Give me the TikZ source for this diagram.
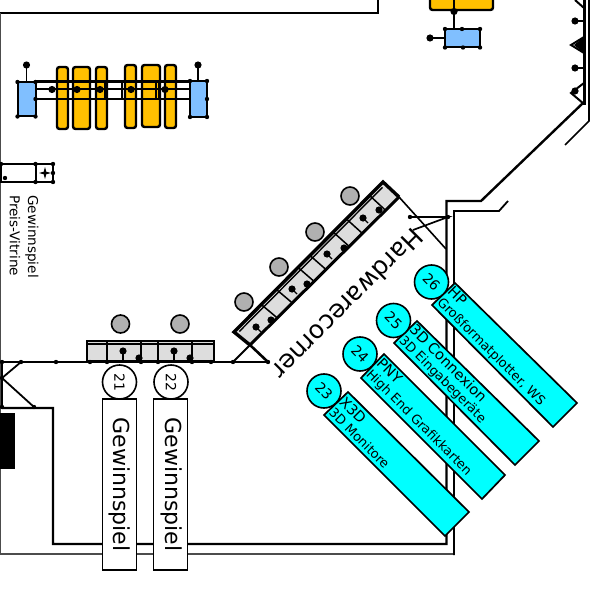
\documentclass[tikz,border=0pt]{standalone}
\usepackage{fontspec}
\setmainfont{DejaVu Sans}
\usetikzlibrary{calc}
\definecolor{boxblue}{HTML}{80BFFF}
\definecolor{boxorange}{HTML}{FFC000}
\definecolor{boxcyan}{HTML}{00FFFF}
\definecolor{counter}{HTML}{DDDDDD}
\definecolor{visitor}{HTML}{B0B0B0}
\tikzset{
  wall/.style={line width=2.4pt,black},
  thinwall/.style={line width=1.8pt,black},
  greywall/.style={line width=1.8pt,black!70},
  orangebox/.style={draw,line width=2.4pt,fill=boxorange,rounded corners=2.5pt},
  bluebox/.style={draw,line width=2pt,fill=boxblue},
  standbox/.style={draw,line width=1.7pt,fill=boxcyan},
  whitebox/.style={draw,line width=1.6pt,fill=white},
  numcirc/.style={draw,circle,line width=1.6pt,minimum size=34pt,inner sep=0pt,font=\fontsize{14}{14}\selectfont},
  visitorc/.style={draw,circle,line width=1.6pt,fill=visitor,minimum size=18pt,inner sep=0pt},
  standtext/.style={rotate=-45,anchor=west,align=left,inner sep=0pt,font=\fontsize{12.9}{14.5}\selectfont},
  bigtext/.style={rotate=-90,inner sep=0pt,font=\fontsize{22}{22}\selectfont},
  smalltext/.style={rotate=-90,anchor=west,inner sep=0pt,font=\fontsize{13.6}{14}\selectfont},
}
\newcommand{\hd}[1]{{\fontsize{14.5}{14.5}\selectfont #1}}
\newcommand{\blob}[1]{\fill #1 circle (3.6);}
\newcommand{\pt}[1]{\fill #1 circle (2.2);}
\begin{document}
\begin{tikzpicture}[x=1pt,y=-1pt]
\useasboundingbox (0,0) rectangle (597,604);
% outer walls
\draw[wall] (0,13) -- (378,13) -- (378,0);
\draw[greywall] (0.5,13) -- (0.5,555);
\draw[wall] (2,408) -- (53,408) -- (53,544) -- (446.5,544) -- (446.5,201) -- (481,201) -- (583,103);
\draw[greywall] (0,554) -- (454,554);
\draw[thinwall] (454,555) -- (454,211) -- (499,211) -- (508,201);
\draw[line width=3pt] (584,0) -- (584,105);
\draw[line width=1.6pt] (589,0) -- (589,121) -- (565,145);
% left entry
\draw[thinwall] (0,362) -- (268,362);
\draw[thinwall] (2,362) -- (2,408);
\draw[thinwall] (21,362) -- (2,378) -- (34,407);
\foreach \p in {(2,362),(21,362),(56,362),(233,362),(2,378),(2,407),(34,407)} {\pt{\p}}
\fill (0,413) rectangle (15,469);
% left stand
\draw[orangebox] (57,67) rectangle (68,129);
\draw[orangebox] (73,67) rectangle (90,129);
\draw[orangebox] (96,67) rectangle (107,129);
\draw[orangebox] (125,65) rectangle (136,128);
\draw[orangebox] (142,65) rectangle (160,127);
\draw[orangebox] (165,65) rectangle (176,128);
\draw[line width=2.2pt] (35,81.5) -- (190,81.5) (35,99) -- (190,99);
\draw[line width=2pt] (35,89.5) -- (190,89.5);
\draw[line width=1.3pt] (105,81) -- (105,99) (122,81) -- (122,99) (156,81) -- (156,99) (159,81) -- (159,99);
\foreach \p in {(52,89.5),(77,89.5),(100,89.5),(131,89.5),(165,89.5)} {\blob{\p}}
\draw[bluebox] (17.5,82) rectangle (35.5,116.5);
\draw[bluebox] (190,81) rectangle (207,117);
\draw[line width=1.6pt] (26.5,65) -- (26.5,82) (198,65) -- (198,81);
\blob{(26.5,65)} \blob{(198,65)}
\foreach \p in {(17.5,82),(35.5,82),(17.5,116.5),(35.5,116.5),(190,81),(207,81),(190,117),(207,117),(207,99),(35.5,99)} {\pt{\p}}
% showcase
\draw[line width=2pt] (1,164) rectangle (53,182) (35.5,164) -- (35.5,182);
\fill (45,167) -- (46.3,171.7) -- (51,173) -- (46.3,174.3) -- (45,179) -- (43.7,174.3) -- (39,173) -- (43.7,171.7) -- cycle;
\foreach \p in {(1,164),(35.5,164),(53,164),(35.5,182),(53,182),(53,173),(5,178)} {\pt{\p}}
\node[smalltext] (t1) at (32,195) {Gewinnspiel};
\node[smalltext] (t2) at (15,195) {Preis-Vitrine};
% top stand
\draw[orangebox] (430,-5) rectangle (493,10);
\draw[line width=2.6pt] (454,0) -- (454,29);
\blob{(454,11.5)}
\draw[bluebox] (445,29) rectangle (480,47.5);
\draw[line width=1.6pt] (430,38) -- (445,38);
\blob{(430,38)}
\foreach \p in {(445,29),(462,29),(480,29),(445,47.5),(463,47.5),(480,47.5)} {\pt{\p}}
% right wall furniture
\draw[line width=2pt] (575,0) -- (584,8) (584,37) -- (571,45) -- (584,53) (584,83) -- (571,93) -- (584,104);
\fill (584,37) -- (574,45) -- (584,53) -- cycle;
\draw[line width=1.4pt] (575,21) -- (584,21) (575,68) -- (584,68);
\blob{(575,21)} \blob{(575,68)} \blob{(575,91)}
% horizontal counter
\draw[line width=1.5pt,fill=counter] (87,341) rectangle (214,362);
\draw[line width=2.6pt] (87,362) -- (87,341) -- (214,341);
\draw[line width=1.4pt] (87,344) -- (214,344);
\foreach \x in {107,141,158,192} {\draw[line width=1.5pt] (\x,341) -- (\x,362);}
\draw[line width=2.6pt] (87,361) -- (214,361);
\draw[line width=1.4pt] (123,351) -- (123,361) (174,351) -- (174,361);
\foreach \p in {(123,351),(174,351),(139,358),(190,358)} {\blob{\p}}
\foreach \x in {90,107,141,158,192,211} {\pt{(\x,362)}}
\node[visitorc] (v1) at (120.5,324) {};
\node[visitorc] (v2) at (180,324) {};
% diagonal counter
\coordinate (T0) at (234,332);
\coordinate (T1) at (383,182);
\coordinate (B0) at (250,345);
\coordinate (B1) at (399,197);
\draw[line width=1.5pt,fill=counter] (T0) -- (T1) -- (B1) -- (B0) -- cycle;
\draw[line width=3.4pt] (B0) -- (T0) -- (T1) -- (B1);
\draw[line width=3pt] (B0) -- (B1);
\draw[line width=1.4pt] ($(T0)!.02!(T1)+(2.4,2.4)$) -- ($(T0)!.98!(T1)+(2.4,2.4)$);
\foreach \f in {.183,.284,.43,.51,.666,.754,.91} {
  \draw[line width=1.5pt] ($(T0)!\f!(T1)$) -- ($(B0)!\f!(B1)$);
}
\foreach \a/\b in {256/327,292/289,327/254,363/218} {
  \draw[line width=1.4pt] (\a,\b) -- (\a+5,\b+5);
  \blob{(\a,\b)}
}
\foreach \p in {(271,320),(307,284),(344,248),(379,210)} {\blob{\p}}
\node[visitorc] (v3) at (244,302) {};
\node[visitorc] (v4) at (279,267) {};
\node[visitorc] (v5) at (315,232) {};
\node[visitorc] (v6) at (350,196) {};
\draw[line width=1.8pt] (B0) -- (233,362);
\draw[line width=2.6pt] (B0) -- (268,362);
\pt{(268,362)}
\draw[line width=1.6pt] (B1) -- (446,249);
\draw[line width=1.7pt] (410,217) -- (448,217) -- (413,230);
\pt{(410,217)} \pt{(448,217)}
\node[rotate=225,inner sep=0pt,font=\fontsize{25}{25}\selectfont] (hw) at (348,304) {Hardwarecorner};
% Gewinnspiel boxes
\node[whitebox,numcirc] (c21) at (119.5,382) [rotate=-90] {21};
\node[whitebox,numcirc] (c22) at (171,382) [rotate=-90] {22};
\draw[whitebox] (102.5,399) rectangle (136.5,570);
\draw[whitebox] (153.5,399) rectangle (187.5,570);
\node[bigtext] (g1) at (120,484.5) {Gewinnspiel};
\node[bigtext] (g2) at (171.5,484.5) {Gewinnspiel};
% cyan stands
\draw[standbox] (455,283) -- (577,403) -- (553,427) -- (432,305) -- cycle;
\draw[standbox] (417,321) -- (539,441) -- (515,465) -- (394,343) -- cycle;
\draw[standbox] (384,354) -- (505,475) -- (482,499) -- (361,378) -- cycle;
\draw[standbox] (348,392) -- (469,512) -- (445,536) -- (324,415) -- cycle;
\node[standtext] (s26) at (444.5,295) {\hd{HP}\\Großformatplotter, WS};
\node[standtext] (s25) at (406.5,333) {\hd{3D Connexion}\\3D Eingabegeräte};
\node[standtext] (s24) at (373.5,367) {\hd{PNY}\\High End Grafikkarten};
\node[standtext] (s23) at (337,404.5) {\hd{X3D}\\3D Monitore};
\node[numcirc,fill=boxcyan,rotate=-45] (c26) at (431.5,282) {26};
\node[numcirc,fill=boxcyan,rotate=-45] (c25) at (393.5,320.5) {25};
\node[numcirc,fill=boxcyan,rotate=-45] (c24) at (360,354) {24};
\node[numcirc,fill=boxcyan,rotate=-45] (c23) at (324,391) {23};
\end{tikzpicture}
\end{document}
